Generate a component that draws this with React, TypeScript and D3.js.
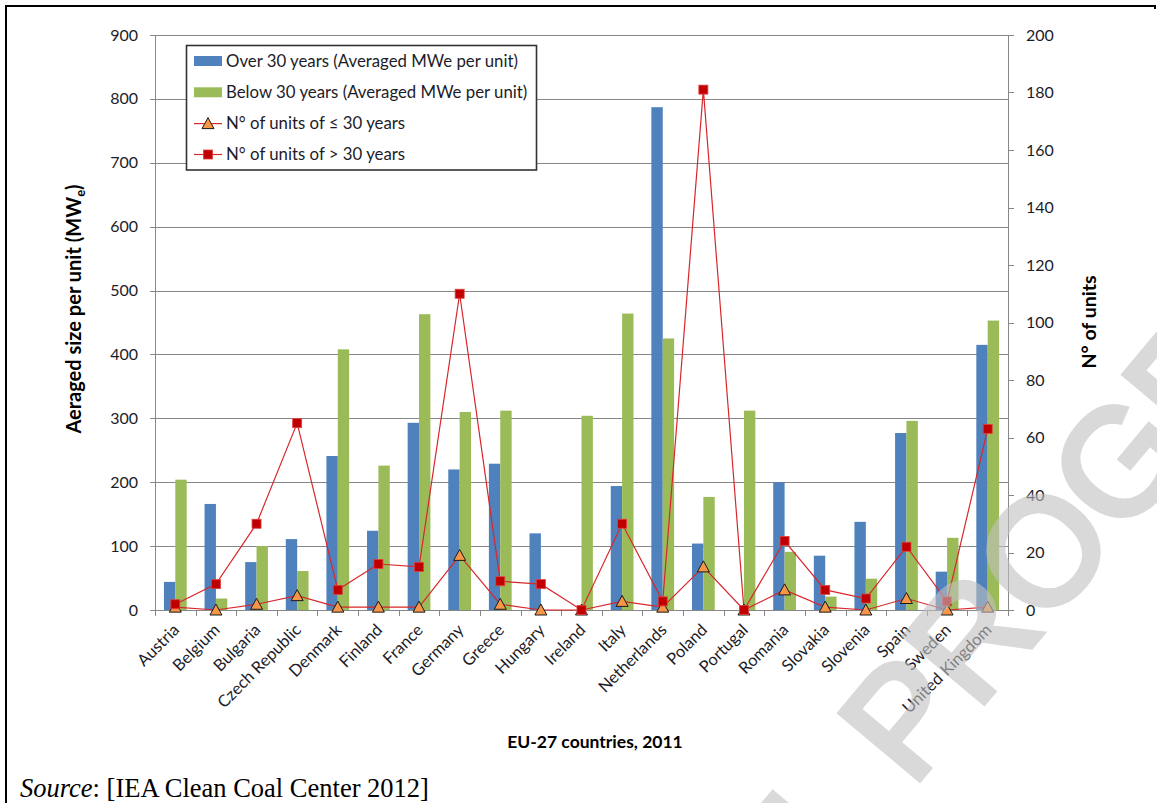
import React from "react";
import * as d3 from "d3";

const countries = [
  "Austria", "Belgium", "Bulgaria", "Czech Republic", "Denmark", "Finland", "France",
  "Germany", "Greece", "Hungary", "Ireland", "Italy", "Netherlands", "Poland",
  "Portugal", "Romania", "Slovakia", "Slovenia", "Spain", "Sweden", "United Kingdom",
];
const over30Size = [44, 166, 75, 111, 241, 124, 293, 220, 229, 120, 0, 194, 787, 104, 0, 200, 85, 138, 277, 60, 415];
const below30Size = [204, 18, 100, 61, 408, 226, 463, 310, 312, 0, 304, 464, 425, 177, 312, 91, 21, 49, 296, 113, 453];
const unitsBelow30 = [1, 0, 2, 5, 1, 1, 1, 19, 2, 0, 0, 3, 1, 15, 0, 7, 1, 0, 4, 0, 1];
const unitsOver30 = [2, 9, 30, 65, 7, 16, 15, 110, 10, 9, 0, 30, 3, 181, 0, 24, 7, 4, 22, 3, 63];
const leftTicks = [0, 100, 200, 300, 400, 500, 600, 700, 800, 900];
const rightTicks = [0, 20, 40, 60, 80, 100, 120, 140, 160, 180, 200];
const legendLabels = [
  "Over 30 years (Averaged MWe per unit)",
  "Below 30 years (Averaged MWe per unit)",
  "N° of units of ≤ 30 years",
  "N° of units of > 30 years",
];

const W = 1157;
const H = 803;
const FONT = "Lato, 'Open Sans', sans-serif";
const BLUE = "#4F81BD";
const GREEN = "#9BBB59";
const RED = "#D9262B";
const GRID = "#878787";
const TXT = "#1c1c28";

export default function App() {
  const L = 155, R = 1008, T = 35, B = 610;
  const x = d3.scaleBand<string>().domain(countries).range([L, R]);
  const yL = d3.scaleLinear().domain([0, 900]).range([B, T]);
  const yR = d3.scaleLinear().domain([0, 200]).range([B, T]);
  const bw = x.bandwidth();
  const barW = bw * 0.28;
  const cx = (c: string) => (x(c) as number) + bw / 2;
  const line = d3.line<number>().x((_, i) => cx(countries[i])).y((d) => yR(d));
  const tri = (px: number, py: number) => `M${px},${py - 6}L${px + 6},${py + 5}L${px - 6},${py + 5}Z`;
  const boundaries = countries.map((c) => x(c) as number).concat([R]);
  const legY = [61, 92.3, 123.6, 154.5];

  return (
    <svg width={W} height={H} style={{ position: "absolute", left: 0, top: 0, background: "#fff" }} fontFamily={FONT}>
      <rect x={0} y={0} width={W} height={H} fill="#fff" />
      {/* frame */}
      <path d={`M6,${H}V6H1155V9`} fill="none" stroke="#000" strokeWidth={2} />

      {/* gridlines */}
      {leftTicks.map((t) => (
        <line key={"g" + t} x1={L} x2={R} y1={Math.round(yL(t)) + 0.5} y2={Math.round(yL(t)) + 0.5} stroke={GRID} strokeWidth={1} />
      ))}
      {/* axes */}
      <line x1={L + 0.5} x2={L + 0.5} y1={T} y2={B + 6} stroke={GRID} />
      <line x1={R + 0.5} x2={R + 0.5} y1={T} y2={B + 6} stroke={GRID} />
      {leftTicks.map((t) => (
        <line key={"lt" + t} x1={L - 5} x2={L} y1={Math.round(yL(t)) + 0.5} y2={Math.round(yL(t)) + 0.5} stroke={GRID} />
      ))}
      {rightTicks.map((t) => (
        <line key={"rt" + t} x1={R} x2={R + 6} y1={Math.round(yR(t)) + 0.5} y2={Math.round(yR(t)) + 0.5} stroke={GRID} />
      ))}
      {boundaries.map((b, i) => (
        <line key={"bt" + i} x1={Math.round(b) + 0.5} x2={Math.round(b) + 0.5} y1={B} y2={B + 6} stroke={GRID} />
      ))}
      {leftTicks.map((t) => (
        <text key={"ll" + t} x={138} y={yL(t)} dy="0.35em" textAnchor="end" fontSize={16} fill={TXT}>{t}</text>
      ))}
      {rightTicks.map((t) => (
        <text key={"rl" + t} x={1026} y={yR(t)} dy="0.35em" textAnchor="start" fontSize={16} fill={TXT}>{t}</text>
      ))}

      {/* bars */}
      {countries.map((c, i) => (
        <g key={"bar" + c}>
          {over30Size[i] > 0 && (
            <rect x={cx(c) - barW} y={yL(over30Size[i])} width={barW} height={B - yL(over30Size[i])} fill={BLUE} />
          )}
          {below30Size[i] > 0 && (
            <rect x={cx(c)} y={yL(below30Size[i])} width={barW} height={B - yL(below30Size[i])} fill={GREEN} />
          )}
        </g>
      ))}

      {/* lines */}
      <path d={line(unitsBelow30) || ""} fill="none" stroke={RED} strokeWidth={1.2} />
      <path d={line(unitsOver30) || ""} fill="none" stroke={RED} strokeWidth={1.2} />
      {unitsBelow30.map((v, i) => (
        <path key={"tri" + i} d={tri(cx(countries[i]), yR(v))} fill="#F79646" stroke="#1a1a1a" strokeWidth={1} />
      ))}
      {unitsOver30.map((v, i) => (
        <rect key={"sq" + i} x={cx(countries[i]) - 4.5} y={yR(v) - 4.5} width={9} height={9} fill="#C00000" stroke="#E04040" strokeWidth={0.8} />
      ))}

      {/* x labels */}
      {countries.map((c) => (
        <text key={"xl" + c} transform={`translate(${cx(c) + 5},${B + 21}) rotate(-45)`} textAnchor="end" fontSize={16.5} fill={TXT}>{c}</text>
      ))}

      {/* axis titles */}
      <text transform={`translate(81,309) rotate(-90)`} textAnchor="middle" fontSize={20} fontWeight="bold" fill="#000">
        Aeraged size per unit (MW<tspan fontSize={13} dy={4}>e</tspan><tspan dy={-4}>)</tspan>
      </text>
      <text transform={`translate(1096,322) rotate(-90)`} textAnchor="middle" fontSize={19.5} fontWeight="bold" fill="#000">N° of units</text>
      <text x={595} y={748} textAnchor="middle" fontSize={17.5} fontWeight="bold" fill="#000">EU-27 countries, 2011</text>

      {/* legend */}
      <rect x={186.5} y={45.5} width={350} height={124.5} fill="#fff" stroke="#333" strokeWidth={1.6} />
      <rect x={194} y={legY[0] - 5} width={28} height={10} fill={BLUE} />
      <rect x={194} y={legY[1] - 5} width={28} height={10} fill={GREEN} />
      <line x1={194} x2={222} y1={legY[2]} y2={legY[2]} stroke={RED} strokeWidth={1.2} />
      <path d={tri(208, legY[2])} fill="#F79646" stroke="#1a1a1a" strokeWidth={1} />
      <line x1={194} x2={222} y1={legY[3]} y2={legY[3]} stroke={RED} strokeWidth={1.2} />
      <rect x={203.5} y={legY[3] - 4.5} width={9} height={9} fill="#C00000" stroke="#E04040" strokeWidth={0.8} />
      {legendLabels.map((t, i) => (
        <text key={"lg" + i} x={226} y={legY[i]} dy="0.35em" fontSize={16.8} fill={TXT}>{t}</text>
      ))}

      {/* source */}
      <text x={20} y={797} fontFamily="'Liberation Serif', 'Times New Roman', serif" fontSize={26.5} fill="#000">
        <tspan fontStyle="italic">Source</tspan>: [IEA Clean Coal Center 2012]
      </text>

      {/* watermark */}
      <text
        transform="translate(835,880) rotate(-50)"
        x={-2.278 * 150}
        fontFamily="'Liberation Sans', Arial, sans-serif"
        fontSize={150}
        fill="#c0c0c0"
        stroke="#c0c0c0"
        strokeWidth={6}
        opacity={0.6}
      >FINAL PROGRESS</text>
    </svg>
  );
}
